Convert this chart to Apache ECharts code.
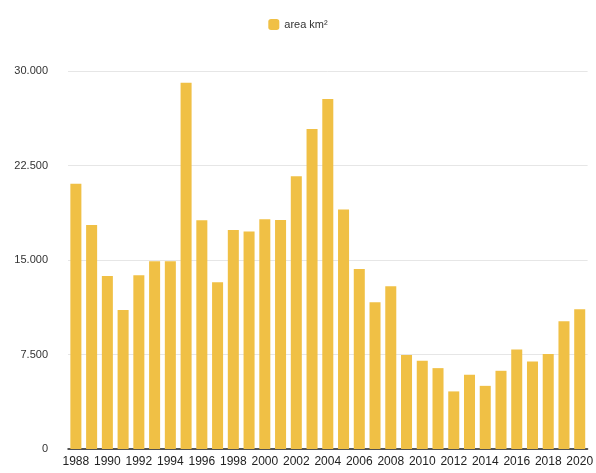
<!DOCTYPE html>
<html><head><meta charset="utf-8">
<script src="https://cdn.jsdelivr.net/npm/echarts@6/dist/echarts.min.js"></script>
<style>html,body{margin:0;padding:0;background:#fff}#c{width:596px;height:473px}</style>
</head><body><div id="c"></div>
<script>
const years = ['1988','1989','1990','1991','1992','1993','1994','1995','1996','1997','1998','1999','2000','2001','2002','2003','2004','2005','2006','2007','2008','2009','2010','2011','2012','2013','2014','2015','2016','2017','2018','2019','2020'];
const area = [21050,17770,13730,11030,13786,14896,14896,29059,18161,13227,17383,17259,18226,18165,21650,25396,27772,19014,14286,11651,12911,7464,7000,6418,4571,5891,5012,6207,7893,6947,7536,10129,11088];
const yTicks = [0,7500,15000,22500,30000];
const seriesName = 'area km²';

const chart = echarts.init(document.getElementById('c'));
chart.setOption({
  animation:false,
  legend:{top:14,left:'center',itemWidth:11,itemHeight:11,itemGap:6,
    textStyle:{fontFamily:'Liberation Sans, Arial',fontSize:11,color:'#333'},
    data:[seriesName]},
  grid:{left:68,right:4,top:71,bottom:24,containLabel:false},
  xAxis:{type:'category',data:years,
    axisLine:{lineStyle:{color:'#222',width:1.5}},axisTick:{show:false},
    axisLabel:{interval:1,margin:7,fontFamily:'Liberation Sans Narrow, Liberation Sans, Arial',fontSize:12,color:'#222'}},
  yAxis:{type:'value',min:yTicks[0],max:yTicks[yTicks.length-1],interval:7500,
    axisLine:{show:false},axisTick:{show:false},
    splitLine:{lineStyle:{color:'#e6e6e6'}},
    axisLabel:{margin:20,fontFamily:'Liberation Sans, Arial',fontSize:11,color:'#333',
      formatter:v=>v.toLocaleString('de-DE')}},
  series:[{name:seriesName,type:'bar',data:area,barCategoryGap:'30%',
    itemStyle:{color:'#F0C045'}}]
});
</script></body></html>
